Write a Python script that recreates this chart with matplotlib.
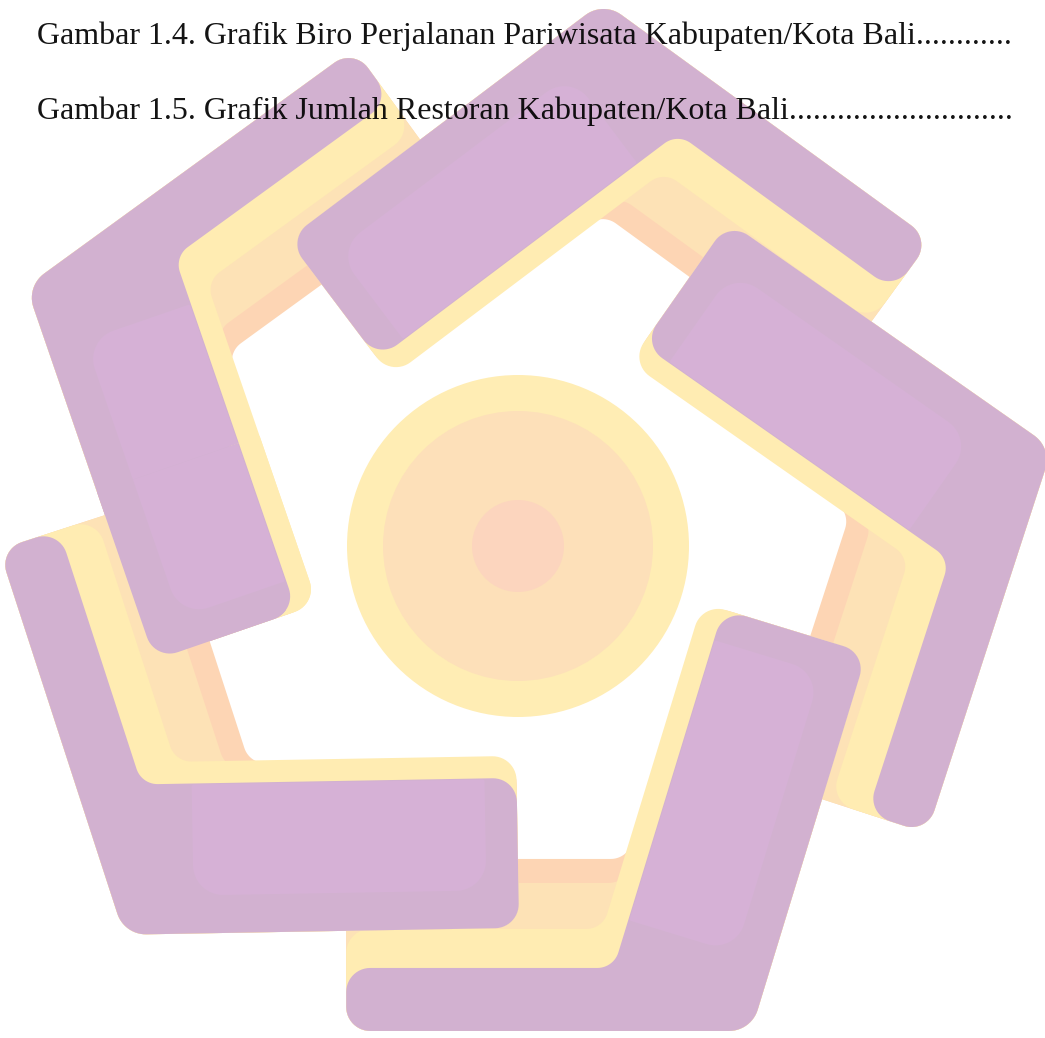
import numpy as np
import matplotlib
matplotlib.use("Agg")
import matplotlib.pyplot as plt
from matplotlib.patches import Polygon, Circle

# ---------------- page text ----------------
text_lines = ["Gambar 1.4. Grafik Biro Perjalanan Pariwisata Kabupaten/Kota Bali",
              "Gambar 1.5. Grafik Jumlah Restoran Kabupaten/Kota Bali"]
leader_dots = [12, 28]
baseline_y = [44, 119]
text_left = 37

# ---------------- watermark logo ----------------
logo_center = (508.0, 541.0)      # centre of the five chevrons
apex_radius = 547.0
first_angle = 207.6               # degrees, image coordinates (y down)
n_chevrons = 5
apex_shift = [(3, -1), (4, 0), (3, -13), (0, 0), (7, 11)]
thick_rel, thin_rel = 43.4, -63.6  # arm directions relative to inward radial
thick_len, thin_len = 395.0, 405.0
layer_colors = ["#FDD5B4", "#FDE2B6", "#FFECB2", "#D2B1D0"]
thick_width = [169.0, 164.0, 172.0, 150.0]
thin_width = [172.0, 148.0, 102.0, 63.0]
highlight_color = "#D6B1D6"

circle_center = (518.0, 546.0)
ring_radius = [171.0, 135.0, 46.0]
ring_colors = ["#FFEDB4", "#FDE0B9", "#FCD5BE"]


def unit(deg):
    r = np.deg2rad(deg)
    return np.array([np.cos(r), np.sin(r)])


def rounded(pts, radii, n=14):
    pts = np.asarray(pts, float)
    out = []
    N = len(pts)
    for i in range(N):
        p0, p1, p2 = pts[i - 1], pts[i], pts[(i + 1) % N]
        r = radii[i]
        v1 = p0 - p1
        l1 = np.linalg.norm(v1)
        v1 = v1 / l1
        v2 = p2 - p1
        l2 = np.linalg.norm(v2)
        v2 = v2 / l2
        ang = np.arccos(np.clip(np.dot(v1, v2), -1, 1))
        d = r / np.tan(ang / 2)
        d = min(d, 0.45 * l1, 0.45 * l2)
        r = d * np.tan(ang / 2)
        q1 = p1 + v1 * d
        q2 = p1 + v2 * d
        bis = v1 + v2
        bis = bis / np.linalg.norm(bis)
        c = p1 + bis * r / np.sin(ang / 2)
        a1 = np.arctan2(*(q1 - c)[::-1])
        a2 = np.arctan2(*(q2 - c)[::-1])
        da = (a2 - a1 + np.pi) % (2 * np.pi) - np.pi
        t = a1 + da * np.linspace(0, 1, n)
        out.extend(np.c_[c[0] + r * np.cos(t), c[1] + r * np.sin(t)])
    return np.array(out)


def halfplane(poly, origin, normal, offset):
    """Keep the part of poly where (p - origin) . normal >= offset."""
    out = []
    N = len(poly)
    val = (poly - origin) @ normal - offset
    for i in range(N):
        p, q = poly[i], poly[(i + 1) % N]
        vp, vq = val[i], val[(i + 1) % N]
        if vp >= 0:
            out.append(p)
        if (vp >= 0) != (vq >= 0):
            out.append(p + (q - p) * vp / (vp - vq))
    return np.array(out)


def frame(k):
    phi = first_angle + 72.0 * k
    O = np.array(logo_center) + apex_radius * unit(phi) + np.array(apex_shift[k], float)
    inward = phi + 180.0
    a = unit(inward + thick_rel)
    b = unit(inward + thin_rel)
    na = b - np.dot(b, a) * a
    na /= np.linalg.norm(na)
    nb = a - np.dot(a, b) * b
    nb /= np.linalg.norm(nb)
    return O, a, b, na, nb


def chevron(k, wk, wn):
    O, a, b, na, nb = frame(k)
    M = np.c_[a, -b]
    s, t = np.linalg.solve(M, wn * nb - wk * na)
    inner = O + s * a + wk * na
    pts = [O + thick_len * a,
           O + thick_len * a + wk * na,
           inner,
           O + thin_len * b + wn * nb,
           O + thin_len * b,
           O]
    return rounded(pts, [24, 24, 22, 24, 24, 30])


def highlight(k):
    O, a, b, na, nb = frame(k)
    s0, s1, t0, t1 = 70.0, thick_len - 32.0, 38.0, thick_width[-1] - 1.0
    pts = [O + s0 * a + t0 * na, O + s1 * a + t0 * na,
           O + s1 * a + t1 * na, O + s0 * a + t1 * na]
    return rounded(pts, [30, 30, 2, 2])


def add(ax, pts, col, z):
    ax.add_patch(Polygon(pts, closed=True, facecolor=col, edgecolor="none", zorder=z))


def draw_chevron(ax, k, z):
    for col, wk, wn in zip(layer_colors, thick_width, thin_width):
        add(ax, chevron(k, wk, wn), col, z)
    add(ax, highlight(k), highlight_color, z)


def redraw_thick_end(ax, k, z):
    """Top pieces of chevron k's thick arm (they lie over the previous chevron)."""
    O, a, b, na, nb = frame(k)
    s0 = 0.55 * thick_len
    yellow = halfplane(chevron(k, thick_width[2], thin_width[2]), O, a, s0)
    yellow = halfplane(yellow, O, na, thick_width[3] - 10)
    purple = halfplane(chevron(k, thick_width[3], thin_width[3]), O, a, s0)
    hl = halfplane(highlight(k), O, a, s0)
    add(ax, yellow, layer_colors[2], z)
    add(ax, purple, layer_colors[3], z)
    add(ax, hl, highlight_color, z)


fig = plt.figure(figsize=(10.45, 10.38), dpi=100)
ax = fig.add_axes([0, 0, 1, 1])
ax.set_xlim(0, 1045)
ax.set_ylim(1038, 0)
ax.axis("off")

for r, col in zip(ring_radius, ring_colors):
    ax.add_patch(Circle(circle_center, r, facecolor=col, edgecolor="none", zorder=1))

for k in range(n_chevrons):
    draw_chevron(ax, k, 2 + k)
# the first chevron's thick arm lies over the last chevron's thin arm
redraw_thick_end(ax, 0, 2 + n_chevrons)

for line, nd, y in zip(text_lines, leader_dots, baseline_y):
    ax.text(text_left, y, line + "." * nd, fontsize=23, family="Liberation Serif",
            color="black", alpha=0.92, va="baseline", ha="left", zorder=20)

fig.savefig("out.png", dpi=100)
